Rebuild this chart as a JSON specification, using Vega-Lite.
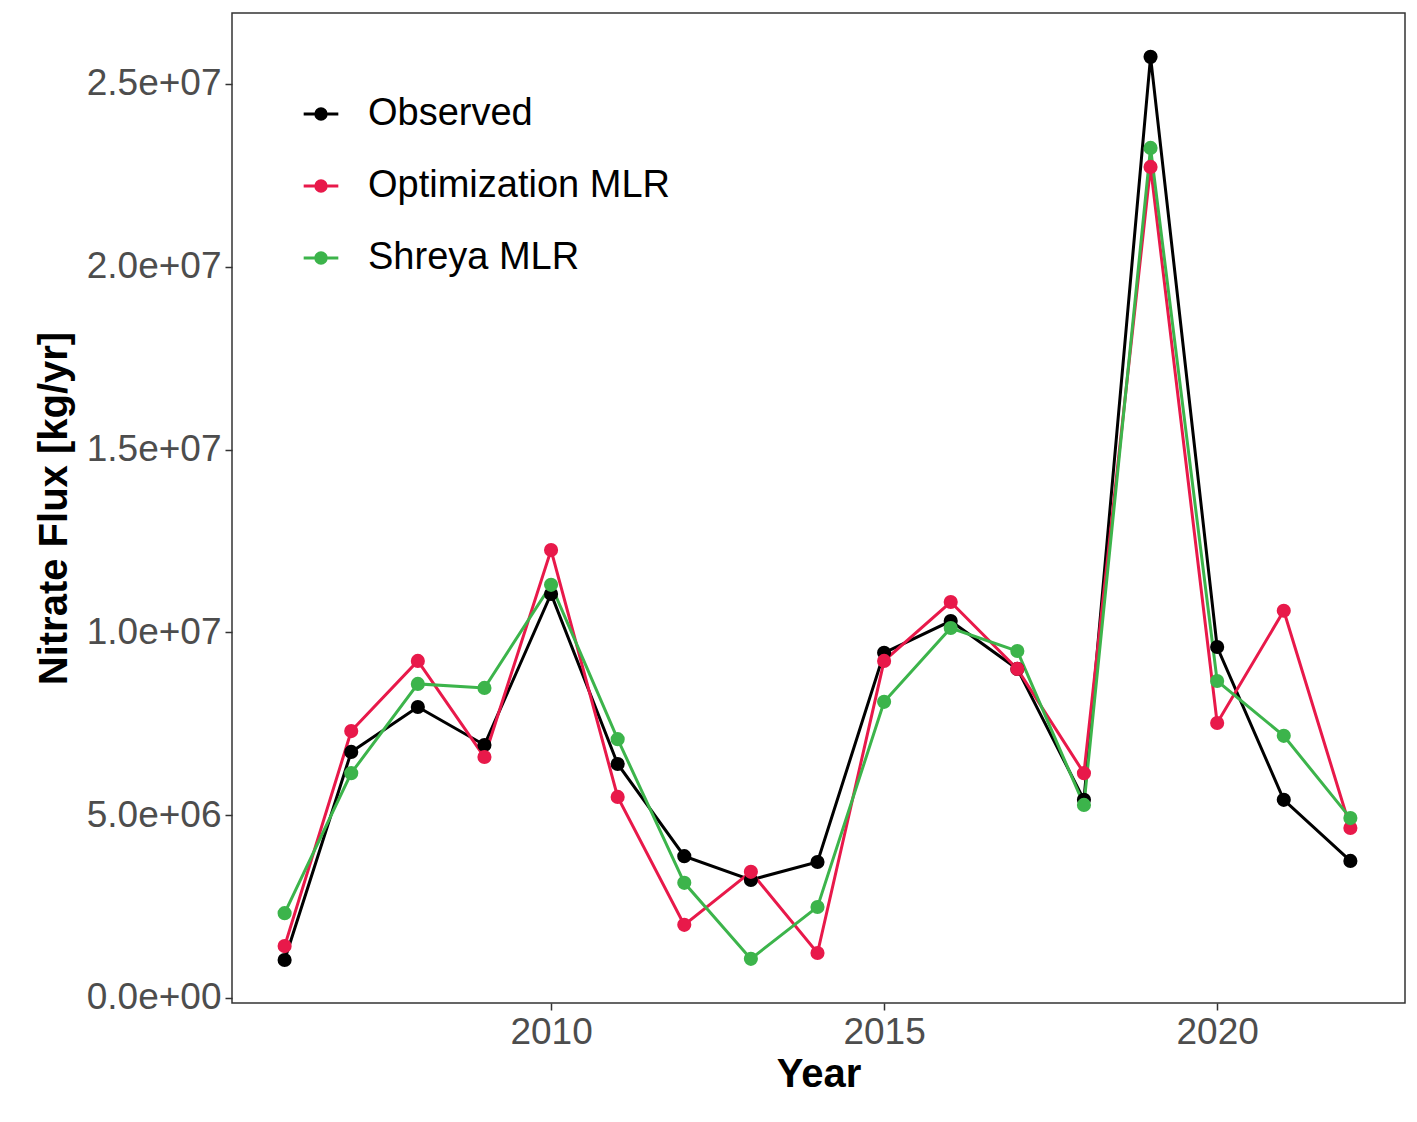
{
  "$schema": "https://vega.github.io/schema/vega-lite/v6.json",
  "width": 1173,
  "height": 990,
  "autosize": "none",
  "padding": {"left": 232, "top": 13, "right": 12, "bottom": 119},
  "background": "white",
  "config": {
    "font": "Liberation Sans",
    "view": {"stroke": "#333333", "strokeWidth": 1.5},
    "axis": {"grid": false, "domain": false, "tickColor": "#333333", "tickSize": 7, "tickWidth": 1.5,
      "labelFontSize": 37, "labelColor": "#4d4d4d", "titleFontSize": 40, "titleColor": "black", "titleFontWeight": "bold", "labelPadding": 4}
  },
  "data": {"values": [
    {"Year": 2006, "series": "Observed", "flux": 1040000},
    {"Year": 2007, "series": "Observed", "flux": 6730000},
    {"Year": 2008, "series": "Observed", "flux": 7960000},
    {"Year": 2009, "series": "Observed", "flux": 6920000},
    {"Year": 2010, "series": "Observed", "flux": 11050000},
    {"Year": 2011, "series": "Observed", "flux": 6400000},
    {"Year": 2012, "series": "Observed", "flux": 3880000},
    {"Year": 2013, "series": "Observed", "flux": 3230000},
    {"Year": 2014, "series": "Observed", "flux": 3720000},
    {"Year": 2015, "series": "Observed", "flux": 9440000},
    {"Year": 2016, "series": "Observed", "flux": 10310000},
    {"Year": 2017, "series": "Observed", "flux": 9000000},
    {"Year": 2018, "series": "Observed", "flux": 5420000},
    {"Year": 2019, "series": "Observed", "flux": 25740000},
    {"Year": 2020, "series": "Observed", "flux": 9600000},
    {"Year": 2021, "series": "Observed", "flux": 5420000},
    {"Year": 2022, "series": "Observed", "flux": 3750000},
    {"Year": 2006, "series": "Optimization MLR", "flux": 1420000},
    {"Year": 2007, "series": "Optimization MLR", "flux": 7300000},
    {"Year": 2008, "series": "Optimization MLR", "flux": 9220000},
    {"Year": 2009, "series": "Optimization MLR", "flux": 6590000},
    {"Year": 2010, "series": "Optimization MLR", "flux": 12250000},
    {"Year": 2011, "series": "Optimization MLR", "flux": 5500000},
    {"Year": 2012, "series": "Optimization MLR", "flux": 2000000},
    {"Year": 2013, "series": "Optimization MLR", "flux": 3450000},
    {"Year": 2014, "series": "Optimization MLR", "flux": 1230000},
    {"Year": 2015, "series": "Optimization MLR", "flux": 9220000},
    {"Year": 2016, "series": "Optimization MLR", "flux": 10830000},
    {"Year": 2017, "series": "Optimization MLR", "flux": 9000000},
    {"Year": 2018, "series": "Optimization MLR", "flux": 6150000},
    {"Year": 2019, "series": "Optimization MLR", "flux": 22730000},
    {"Year": 2020, "series": "Optimization MLR", "flux": 7520000},
    {"Year": 2021, "series": "Optimization MLR", "flux": 10590000},
    {"Year": 2022, "series": "Optimization MLR", "flux": 4650000},
    {"Year": 2006, "series": "Shreya MLR", "flux": 2320000},
    {"Year": 2007, "series": "Shreya MLR", "flux": 6150000},
    {"Year": 2008, "series": "Shreya MLR", "flux": 8590000},
    {"Year": 2009, "series": "Shreya MLR", "flux": 8480000},
    {"Year": 2010, "series": "Shreya MLR", "flux": 11300000},
    {"Year": 2011, "series": "Shreya MLR", "flux": 7080000},
    {"Year": 2012, "series": "Shreya MLR", "flux": 3150000},
    {"Year": 2013, "series": "Shreya MLR", "flux": 1070000},
    {"Year": 2014, "series": "Shreya MLR", "flux": 2490000},
    {"Year": 2015, "series": "Shreya MLR", "flux": 8100000},
    {"Year": 2016, "series": "Shreya MLR", "flux": 10120000},
    {"Year": 2017, "series": "Shreya MLR", "flux": 9490000},
    {"Year": 2018, "series": "Shreya MLR", "flux": 5280000},
    {"Year": 2019, "series": "Shreya MLR", "flux": 23250000},
    {"Year": 2020, "series": "Shreya MLR", "flux": 8670000},
    {"Year": 2021, "series": "Shreya MLR", "flux": 7170000},
    {"Year": 2022, "series": "Shreya MLR", "flux": 4920000}
  ]},
  "encoding": {
    "x": {"field": "Year", "type": "quantitative", "scale": {"domain": [2005.21, 2022.82], "nice": false, "zero": false},
      "axis": {"values": [2010, 2015, 2020], "format": "d", "title": "Year", "titlePadding": 4}},
    "y": {"field": "flux", "type": "quantitative", "scale": {"domain": [-137000, 26940000], "nice": false},
      "axis": {"values": [0, 5000000, 10000000, 15000000, 20000000, 25000000], "title": "Nitrate Flux [kg/yr]", "titlePadding": 12,
        "labelExpr": "replace(format(datum.value, '.1e'), /e\\+(\\d)$/, 'e+0$1')"}},
    "color": {"field": "series", "type": "nominal",
      "scale": {"domain": ["Observed", "Optimization MLR", "Shreya MLR"], "range": ["#000000", "#E8194A", "#3CB44B"]},
      "legend": {"title": null, "orient": "none", "legendX": 70, "legendY": 82, "labelFontSize": 38, "labelColor": "black",
        "labelLimit": 600, "rowPadding": 34, "symbolSize": 1200, "symbolStrokeWidth": 3, "labelOffset": 28,
        "symbolType": "M -1 0 L 1 0 M 0.3 0 A 0.3 0.3 0 1 1 -0.3 0 A 0.3 0.3 0 1 1 0.3 0 Z"}}
  },
  "mark": {"type": "line", "strokeWidth": 3, "point": {"size": 200, "filled": true, "opacity": 1}}
}
